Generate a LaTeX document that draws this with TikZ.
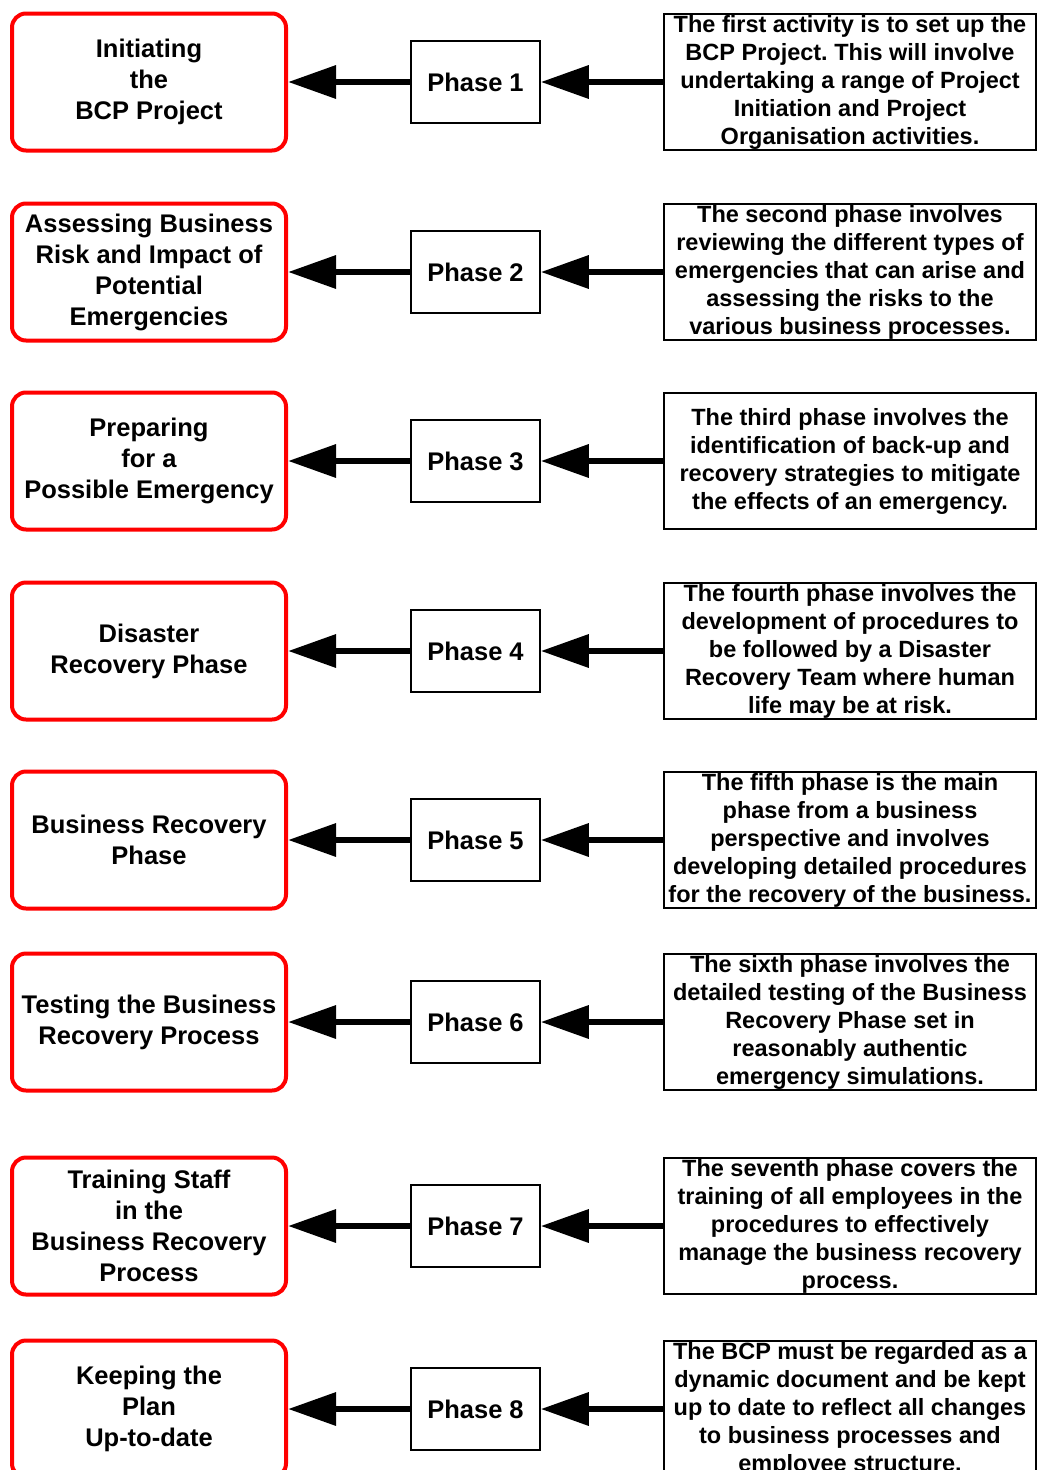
\documentclass[tikz,border=0pt]{standalone}
\usepackage{fontspec}
\setmainfont{Liberation Sans}
\usetikzlibrary{arrows.meta}
\frenchspacing
\begin{document}
\begin{tikzpicture}[x=1pt,y=-1pt,
 redbox/.style={draw=red, line width=4pt, rounded corners=14pt, minimum width=274pt, minimum height=137pt, inner sep=0pt, align=center, font=\bfseries\fontsize{25.5}{31}\selectfont},
 phasebox/.style={draw=black, line width=1.5pt, minimum width=129pt, minimum height=82pt, inner sep=0pt, font=\bfseries\fontsize{25.5}{30}\selectfont},
 descbox/.style={draw=black, line width=1.5pt, minimum width=372pt, minimum height=136pt, inner sep=0pt, align=center, font=\bfseries\fontsize{23.5}{28}\selectfont},
 arr/.style={line width=6.5pt, -{Triangle[length=48pt,width=32pt]}}
]
\useasboundingbox (0,0) rectangle (1037,1470);
\clip (0,0) rectangle (1037,1470);
\fill[white] (0,0) rectangle (1037,1470);

% row 1
\node[redbox] (r1) at (149,82) {Initiating\\the\\BCP Project};
\node[phasebox] (p1) at (475.5,82) {Phase 1};
\node[descbox] (d1) at (850,82) {The first activity is to set up the\\BCP Project. This will involve\\undertaking a range of Project\\Initiation and Project\\Organisation activities.};
% row 2
\node[redbox] (r2) at (149,272) {Assessing Business\\Risk and Impact of\\Potential\\Emergencies};
\node[phasebox] (p2) at (475.5,272) {Phase 2};
\node[descbox] (d2) at (850,272) {The second phase involves\\reviewing the different types of\\emergencies that can arise and\\assessing the risks to the\\various business processes.};
% row 3
\node[redbox] (r3) at (149,461) {Preparing\\for a\\Possible Emergency};
\node[phasebox] (p3) at (475.5,461) {Phase 3};
\node[descbox] (d3) at (850,461) {The third phase involves the\\identification of back-up and\\recovery strategies to mitigate\\the effects of an emergency.};
% row 4
\node[redbox] (r4) at (149,651) {Disaster\\Recovery Phase};
\node[phasebox] (p4) at (475.5,651) {Phase 4};
\node[descbox] (d4) at (850,651) {The fourth phase involves the\\development of procedures to\\be followed by a Disaster\\Recovery Team where human\\life may be at risk.};
% row 5
\node[redbox] (r5) at (149,840) {Business Recovery\\Phase};
\node[phasebox] (p5) at (475.5,840) {Phase 5};
\node[descbox] (d5) at (850,840) {The fifth phase is the main\\phase from a business\\perspective and involves\\developing detailed procedures\\for the recovery of the business.};
% row 6
\node[redbox] (r6) at (149,1022) {Testing the Business\\Recovery Process};
\node[phasebox] (p6) at (475.5,1022) {Phase 6};
\node[descbox] (d6) at (850,1022) {The sixth phase involves the\\detailed testing of the Business\\Recovery Phase set in\\reasonably authentic\\emergency simulations.};
% row 7
\node[redbox] (r7) at (149,1226) {Training Staff\\in the\\Business Recovery\\Process};
\node[phasebox] (p7) at (475.5,1226) {Phase 7};
\node[descbox] (d7) at (850,1226) {The seventh phase covers the\\training of all employees in the\\procedures to effectively\\manage the business recovery\\process.};
% row 8
\node[redbox] (r8) at (149,1409) {Keeping the\\Plan\\Up-to-date};
\node[phasebox] (p8) at (475.5,1409) {Phase 8};
\node[descbox] (d8) at (850,1409) {The BCP must be regarded as a\\dynamic document and be kept\\up to date to reflect all changes\\to business processes and\\employee structure.};

\foreach \i in {1,...,8}{
  \draw[arr] (d\i.west) -- (p\i.east);
  \draw[arr] (p\i.west) -- (r\i.east);
}
\end{tikzpicture}
\end{document}
